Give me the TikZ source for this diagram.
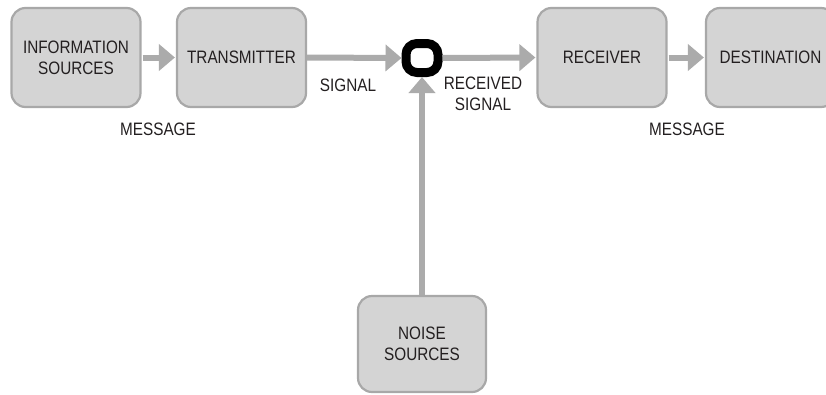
\documentclass[tikz,border=0pt]{standalone}
\usepackage{fontspec}
\setmainfont{Liberation Sans}[FakeStretch=0.85]
\usetikzlibrary{arrows.meta}
\definecolor{boxfill}{HTML}{D4D4D4}
\definecolor{boxline}{HTML}{A8A8A8}
\definecolor{arrowgray}{HTML}{ABABAB}
\definecolor{textcol}{HTML}{231F20}
\tikzset{
  blk/.style={draw=boxline, line width=2.2pt, fill=boxfill, rounded corners=14pt,
    minimum width=129pt, minimum height=99pt, align=center, text=textcol,
    font=\fontsize{18}{21}\selectfont, inner sep=0pt},
  lbl/.style={text=textcol, align=center, font=\fontsize{18}{21}\selectfont, inner sep=0pt},
  conn/.style={draw=arrowgray, line width=6pt, -{Triangle[length=16pt,width=26pt]}},
  mixer/.style={draw=black, line width=9pt, rounded corners=11pt, minimum width=32pt, minimum height=29pt, inner sep=0pt}
}
\begin{document}
\begin{tikzpicture}[x=1pt,y=-1pt]
\useasboundingbox (0,0) rectangle (826,394);
\clip (0,0) rectangle (826,394);
\fill[white] (0,0) rectangle (826,394);
\node[blk] (src) at (76,57.5) {INFORMATION\\SOURCES};
\node[blk] (tx) at (241.5,57.5) {TRANSMITTER};
\node[blk] (rx) at (602,57.5) {RECEIVER};
\node[blk] (dst) at (770.5,57.5) {DESTINATION};
\node[blk, minimum width=128pt, minimum height=96pt] (noise) at (422,344) {NOISE\\SOURCES};
\node[mixer] (mix) at (422,58) {};
\draw[conn, shorten <=1pt, shorten >=1pt] (src.east) -- (tx.west);
\draw[conn, shorten >=0pt] (tx.east) -- (mix.west);
\draw[conn, shorten >=1pt] (mix.east) -- (rx.west);
\draw[conn, shorten <=1pt, shorten >=1pt] (rx.east) -- (dst.west);
\draw[conn] (noise.north) -- (mix.south);
\node[lbl] (sig) at (348,85) {SIGNAL};
\node[lbl] (msg1) at (158,129) {MESSAGE};
\node[lbl] (rsig) at (483,94) {RECEIVED\\SIGNAL};
\node[lbl] (msg2) at (687,129) {MESSAGE};
\end{tikzpicture}
\end{document}
